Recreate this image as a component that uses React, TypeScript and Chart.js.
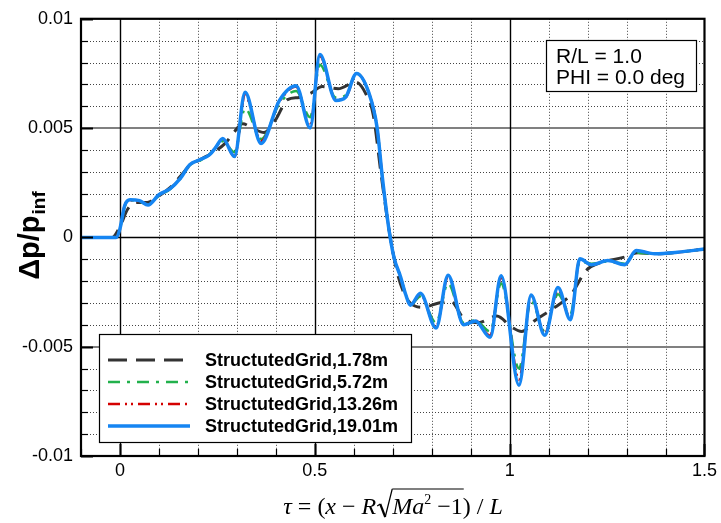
import React, { useEffect, useRef } from 'react';
import { Chart, registerables } from 'chart.js';

Chart.register(...registerables);

// ---------------- data ----------------
const tauFine = [
  -0.1, -0.01, 0.0, 0.012, 0.026, 0.05, 0.072, 0.1, 0.128, 0.155,
  0.179, 0.205, 0.23, 0.245, 0.264, 0.294, 0.321, 0.362, 0.409, 0.452,
  0.488, 0.513, 0.554, 0.579, 0.607, 0.639, 0.66, 0.673, 0.69, 0.703,
  0.72, 0.733, 0.745, 0.771, 0.811, 0.842, 0.882, 0.912, 0.95, 0.978,
  1.024, 1.055, 1.09, 1.124, 1.156, 1.18, 1.21, 1.252, 1.295, 1.325,
  1.372, 1.431, 1.5,
];

const grid1901 = [
  0, 0, 0.0004, 0.00145, 0.00172, 0.00168, 0.00148, 0.00195, 0.00222, 0.0027,
  0.00332, 0.00355, 0.00378, 0.0041, 0.00452, 0.0037, 0.00664, 0.0043, 0.00626, 0.00694,
  0.00501, 0.00837, 0.00626, 0.00641, 0.0075, 0.0066, 0.005, 0.0028, 0.0004, -0.0009,
  -0.0018, -0.0026, -0.0031, -0.00256, -0.00415, -0.00173, -0.004, -0.00382, -0.00457, -0.00176,
  -0.00676, -0.00264, -0.00448, -0.00229, -0.00377, -0.00098, -0.00125, -0.00106, -0.00125, -0.0006,
  -0.00075, -0.00068, -0.00053,
];

const grid1326 = [
  0, 0, 0.0004, 0.00145, 0.0017, 0.00165, 0.00149, 0.00195, 0.00222, 0.0027,
  0.00332, 0.00355, 0.00378, 0.0041, 0.0045, 0.0037, 0.0065, 0.0044, 0.0062, 0.0069,
  0.0051, 0.0083, 0.0063, 0.0064, 0.0075, 0.0066, 0.005, 0.0028, 0.0004, -0.0009,
  -0.0018, -0.0026, -0.0031, -0.0026, -0.0041, -0.0018, -0.004, -0.0038, -0.0045, -0.0018,
  -0.0065, -0.0027, -0.0044, -0.0024, -0.0037, -0.001, -0.00125, -0.00106, -0.00125, -0.0006,
  -0.00075, -0.00068, -0.00053,
];

const grid572 = [
  0, 0, 0.0004, 0.0014, 0.0017, 0.00165, 0.0015, 0.0019, 0.0022, 0.0027,
  0.0033, 0.0035, 0.0038, 0.0041, 0.0044, 0.0039, 0.0059, 0.0045, 0.0061, 0.0067,
  0.0055, 0.0079, 0.0064, 0.0065, 0.0075, 0.0066, 0.005, 0.0028, 0.0004, -0.0009,
  -0.0018, -0.0026, -0.0031, -0.0027, -0.0039, -0.0021, -0.0039, -0.0038, -0.0043, -0.0021,
  -0.006, -0.0029, -0.0043, -0.0026, -0.0035, -0.0011, -0.0012, -0.0011, -0.0012, -0.0007,
  -0.00075, -0.00068, -0.00053,
];

const tauCoarse = [
  -0.1, -0.02, 0.0, 0.02, 0.043, 0.07, 0.1, 0.13, 0.155, 0.18,
  0.21, 0.24, 0.27, 0.29, 0.315, 0.34, 0.37, 0.4, 0.43, 0.46,
  0.49, 0.519, 0.56, 0.605, 0.63, 0.65, 0.67, 0.69, 0.71, 0.73,
  0.745, 0.775, 0.818, 0.848, 0.882, 0.92, 0.967, 1.005, 1.031, 1.065,
  1.116, 1.158, 1.197, 1.227, 1.295, 1.33, 1.372, 1.431, 1.5,
];

const grid178 = [
  0, 0, 0.0005, 0.0013, 0.0016, 0.0016, 0.0019, 0.0023, 0.0028, 0.0033,
  0.0036, 0.0039, 0.0043, 0.00475, 0.0052, 0.005, 0.0048, 0.0054, 0.0063, 0.0064,
  0.0066, 0.0069, 0.0068, 0.0071, 0.0066, 0.0056, 0.0029, 0.0004, -0.0015, -0.0026,
  -0.003, -0.0032, -0.003, -0.0029, -0.0037, -0.0039, -0.0036, -0.0041, -0.0043, -0.0038,
  -0.0032, -0.0026, -0.0015, -0.0012, -0.0009, -0.0007, -0.00075, -0.00068, -0.00053,
];

const seriesNames = [
  'StructutedGrid,1.78m',
  'StructutedGrid,5.72m',
  'StructutedGrid,13.26m',
  'StructutedGrid,19.01m',
];

const xMajorTicks = [0, 0.5, 1, 1.5];
const xTickLabels = ['0', '0.5', '1', '1.5'];
const yMajorTicks = [-0.01, -0.005, 0, 0.005, 0.01];
const yTickLabels = ['-0.01', '-0.005', '0', '0.005', '0.01'];
const annotationLines = ['R/L = 1.0', 'PHI = 0.0 deg'];

// ---------------- styles ----------------
const SANS = '"Liberation Sans", Arial, Helvetica, sans-serif';
const SERIF = '"Liberation Serif", "Times New Roman", serif';

const seriesStyles = [
  { color: '#333333', width: 3, dash: [16, 9] },
  { color: '#22b14c', width: 2.5, dash: [12, 7, 3, 7] },
  { color: '#d40000', width: 2.5, dash: [12, 5, 2, 4, 2, 5] },
  { color: '#1585f2', width: 3.5, dash: [] as number[] },
];

const isMult = (v: number, m: number) => Math.abs(v / m - Math.round(v / m)) < 1e-6;

function pts(xs: number[], ys: number[]) {
  return xs.map((x, i) => ({ x, y: ys[i] }));
}

function drawFormula(ctx: CanvasRenderingContext2D, cx: number, base: number) {
  const size = 24;
  const it = `italic ${size}px ${SERIF}`;
  const up = `${size}px ${SERIF}`;
  const sup = `${Math.round(size * 0.6)}px ${SERIF}`;
  type P = { t: string; f: string; dy?: number; rad?: boolean; over?: boolean };
  const parts: P[] = [
    { t: 'τ', f: it },
    { t: ' = ', f: up },
    { t: '(', f: up },
    { t: 'x', f: it },
    { t: ' − ', f: up },
    { t: 'R', f: it },
    { t: '', f: up, rad: true },
    { t: 'Ma', f: it, over: true },
    { t: '2', f: sup, dy: -10, over: true },
    { t: ' −1', f: up, over: true },
    { t: ')', f: up },
    { t: ' / ', f: up },
    { t: 'L', f: it },
  ];
  const radW = 16;
  const widths = parts.map((p) => {
    if (p.rad) return radW;
    ctx.font = p.f;
    return ctx.measureText(p.t).width;
  });
  const total = widths.reduce((a, b) => a + b, 0);
  let x = cx - total / 2;
  ctx.fillStyle = '#000';
  ctx.strokeStyle = '#000';
  ctx.textAlign = 'left';
  ctx.textBaseline = 'alphabetic';
  let overStart = 0;
  let overEnd = 0;
  const topY = base - 25;
  parts.forEach((p, i) => {
    if (p.rad) {
      ctx.lineWidth = 1.2;
      ctx.beginPath();
      ctx.moveTo(x + 1, base - 8);
      ctx.lineTo(x + 4, base - 10);
      ctx.stroke();
      ctx.lineWidth = 2.2;
      ctx.beginPath();
      ctx.moveTo(x + 4, base - 10);
      ctx.lineTo(x + 9, base + 3);
      ctx.stroke();
      ctx.lineWidth = 1.2;
      ctx.beginPath();
      ctx.moveTo(x + 9, base + 3);
      ctx.lineTo(x + radW, topY);
      ctx.stroke();
      overStart = x + radW;
    } else {
      ctx.font = p.f;
      ctx.fillText(p.t, x, base + (p.dy || 0));
      if (p.over) overEnd = x + widths[i];
    }
    x += widths[i];
  });
  ctx.lineWidth = 1.2;
  ctx.beginPath();
  ctx.moveTo(overStart, topY);
  ctx.lineTo(overEnd + 1, topY);
  ctx.stroke();
}

const decorPlugin = {
  id: 'decor',
  beforeDatasetsDraw(chart: any) {
    const { ctx, chartArea: a, scales } = chart;
    const xs = scales.x;
    const ys = scales.y;
    ctx.save();
    // minor dotted grid
    ctx.lineWidth = 1;
    ctx.strokeStyle = '#444';
    ctx.setLineDash([1, 2]);
    ctx.beginPath();
    for (const t of xs.ticks) {
      if (isMult(t.value, 0.5)) continue;
      const px = Math.round(xs.getPixelForValue(t.value)) + 0.5;
      if (px <= a.left + 1 || px >= a.right - 1) continue;
      ctx.moveTo(px, a.top);
      ctx.lineTo(px, a.bottom);
    }
    for (const t of ys.ticks) {
      if (isMult(t.value, 0.005)) continue;
      const py = Math.round(ys.getPixelForValue(t.value)) + 0.5;
      ctx.moveTo(a.left, py);
      ctx.lineTo(a.right, py);
    }
    ctx.stroke();
    ctx.setLineDash([]);
    // major grid
    for (const t of ys.ticks) {
      if (!isMult(t.value, 0.005)) continue;
      const py = Math.round(ys.getPixelForValue(t.value));
      if (py <= a.top + 1 || py >= a.bottom - 1) continue;
      const zero = Math.abs(t.value) < 1e-9;
      ctx.lineWidth = zero ? 1.4 : 2;
      ctx.strokeStyle = zero ? '#000' : '#808080';
      ctx.beginPath();
      ctx.moveTo(a.left, py + (zero ? 0.5 : 0));
      ctx.lineTo(a.right, py + (zero ? 0.5 : 0));
      ctx.stroke();
    }
    for (const t of xs.ticks) {
      if (!isMult(t.value, 0.5)) continue;
      const px = Math.round(xs.getPixelForValue(t.value)) + 0.5;
      if (px <= a.left + 1 || px >= a.right - 1) continue;
      ctx.lineWidth = 1.4;
      ctx.strokeStyle = '#000';
      ctx.beginPath();
      ctx.moveTo(px, a.top);
      ctx.lineTo(px, a.bottom);
      ctx.stroke();
    }
    ctx.restore();
  },
  afterDatasetsDraw(chart: any) {
    const { ctx, chartArea: a, scales } = chart;
    const xs = scales.x;
    const ys = scales.y;
    ctx.save();
    // axis tick marks (inward)
    ctx.strokeStyle = '#000';
    for (const t of ys.ticks) {
      const major = isMult(t.value, 0.005);
      const py = Math.round(ys.getPixelForValue(t.value)) + 0.5;
      ctx.lineWidth = major ? 2 : 1.2;
      ctx.beginPath();
      ctx.moveTo(a.left, py);
      ctx.lineTo(a.left + (major ? 12 : 7), py);
      ctx.stroke();
    }
    for (const t of xs.ticks) {
      const major = isMult(t.value, 0.5);
      const px = Math.round(xs.getPixelForValue(t.value)) + 0.5;
      ctx.lineWidth = major ? 2 : 1.2;
      ctx.beginPath();
      ctx.moveTo(px, a.bottom);
      ctx.lineTo(px, a.bottom - (major ? 12 : 7));
      ctx.stroke();
    }
    // frame
    ctx.lineWidth = 2.2;
    ctx.strokeStyle = '#000';
    ctx.strokeRect(a.left, a.top, a.right - a.left, a.bottom - a.top);

    // annotation box
    ctx.fillStyle = '#fff';
    ctx.fillRect(546, 40, 151, 52);
    ctx.lineWidth = 1.2;
    ctx.strokeRect(546.5, 40.5, 150, 51);
    ctx.fillStyle = '#000';
    ctx.font = `21px ${SANS}`;
    ctx.textAlign = 'left';
    ctx.textBaseline = 'alphabetic';
    ctx.fillText(annotationLines[0], 556, 63);
    ctx.fillText(annotationLines[1], 556, 84);

    // legend box
    ctx.fillStyle = '#fff';
    ctx.fillRect(99, 334, 313, 109);
    ctx.lineWidth = 1.2;
    ctx.strokeStyle = '#000';
    ctx.strokeRect(99.5, 334.5, 312, 108);
    const rows = [360, 382, 404, 426];
    seriesNames.forEach((name, i) => {
      const s = seriesStyles[i];
      ctx.strokeStyle = s.color;
      ctx.lineWidth = s.width;
      ctx.setLineDash(i === 0 ? [19, 9] : s.dash);
      ctx.beginPath();
      ctx.moveTo(108, rows[i]);
      ctx.lineTo(190, rows[i]);
      ctx.stroke();
      ctx.setLineDash([]);
      ctx.fillStyle = '#000';
      ctx.font = `bold 18px ${SANS}`;
      ctx.textBaseline = 'middle';
      ctx.fillText(name, 205, rows[i] + 1);
    });

    // y title
    ctx.save();
    ctx.translate(39, 236);
    ctx.rotate(-Math.PI / 2);
    ctx.textBaseline = 'alphabetic';
    ctx.textAlign = 'left';
    ctx.font = `bold 29px ${SANS}`;
    const w1 = ctx.measureText('Δp/p').width;
    ctx.font = `bold 19px ${SANS}`;
    const w2 = ctx.measureText('inf').width;
    const sx = -(w1 + w2) / 2;
    ctx.fillStyle = '#000';
    ctx.font = `bold 29px ${SANS}`;
    ctx.fillText('Δp/p', sx, 0);
    ctx.font = `bold 19px ${SANS}`;
    ctx.fillText('inf', sx + w1 + 1, 6);
    ctx.restore();

    // x title
    drawFormula(ctx, 393, 514);
    ctx.restore();
  },
};

export default function App() {
  const ref = useRef<HTMLCanvasElement | null>(null);

  useEffect(() => {
    document.body.style.margin = '0';
    document.body.style.background = '#fff';
    const canvas = ref.current;
    if (!canvas) return;
    const seriesData = [
      pts(tauCoarse, grid178),
      pts(tauFine, grid572),
      pts(tauFine, grid1326),
      pts(tauFine, grid1901),
    ];
    const chart = new Chart(canvas, {
      type: 'line',
      data: {
        datasets: seriesNames.map((name, i) => ({
          label: name,
          data: seriesData[i],
          borderColor: seriesStyles[i].color,
          borderWidth: seriesStyles[i].width,
          borderDash: seriesStyles[i].dash,
          pointRadius: 0,
          fill: false,
          cubicInterpolationMode: 'monotone' as const,
          order: 4 - i,
        })),
      },
      options: {
        responsive: false,
        maintainAspectRatio: false,
        animation: false,
        layout: { padding: { top: 14, right: 14, left: 0, bottom: 0 } },
        plugins: { legend: { display: false }, tooltip: { enabled: false } },
        scales: {
          x: {
            type: 'linear',
            min: -0.1,
            max: 1.5,
            grid: { display: false, drawTicks: false },
            border: { display: false },
            ticks: {
              stepSize: 0.1,
              maxTicksLimit: 1000,
              autoSkip: false,
              maxRotation: 0,
              padding: 4,
              color: '#000',
              font: { family: SANS, size: 18 },
              callback: (v: any) => {
                const i = xMajorTicks.findIndex((m) => Math.abs(m - Number(v)) < 1e-9);
                return i >= 0 ? xTickLabels[i] : '';
              },
            },
            afterFit: (s: any) => {
              s.height = 67;
            },
          },
          y: {
            type: 'linear',
            min: -0.01,
            max: 0.01,
            grid: { display: false, drawTicks: false },
            border: { display: false },
            ticks: {
              stepSize: 0.001,
              maxTicksLimit: 1000,
              autoSkip: false,
              padding: 8,
              color: '#000',
              font: { family: SANS, size: 18 },
              callback: (v: any) => {
                const i = yMajorTicks.findIndex((m) => Math.abs(m - Number(v)) < 1e-9);
                return i >= 0 ? yTickLabels[i] : '';
              },
            },
            afterFit: (s: any) => {
              s.width = 81;
            },
          },
        },
      },
      plugins: [decorPlugin],
    });
    return () => chart.destroy();
  }, []);

  return (
    <div style={{ width: 721, height: 523, background: '#fff' }}>
      <canvas ref={ref} width={721} height={523} style={{ display: 'block', width: 721, height: 523 }} />
    </div>
  );
}
